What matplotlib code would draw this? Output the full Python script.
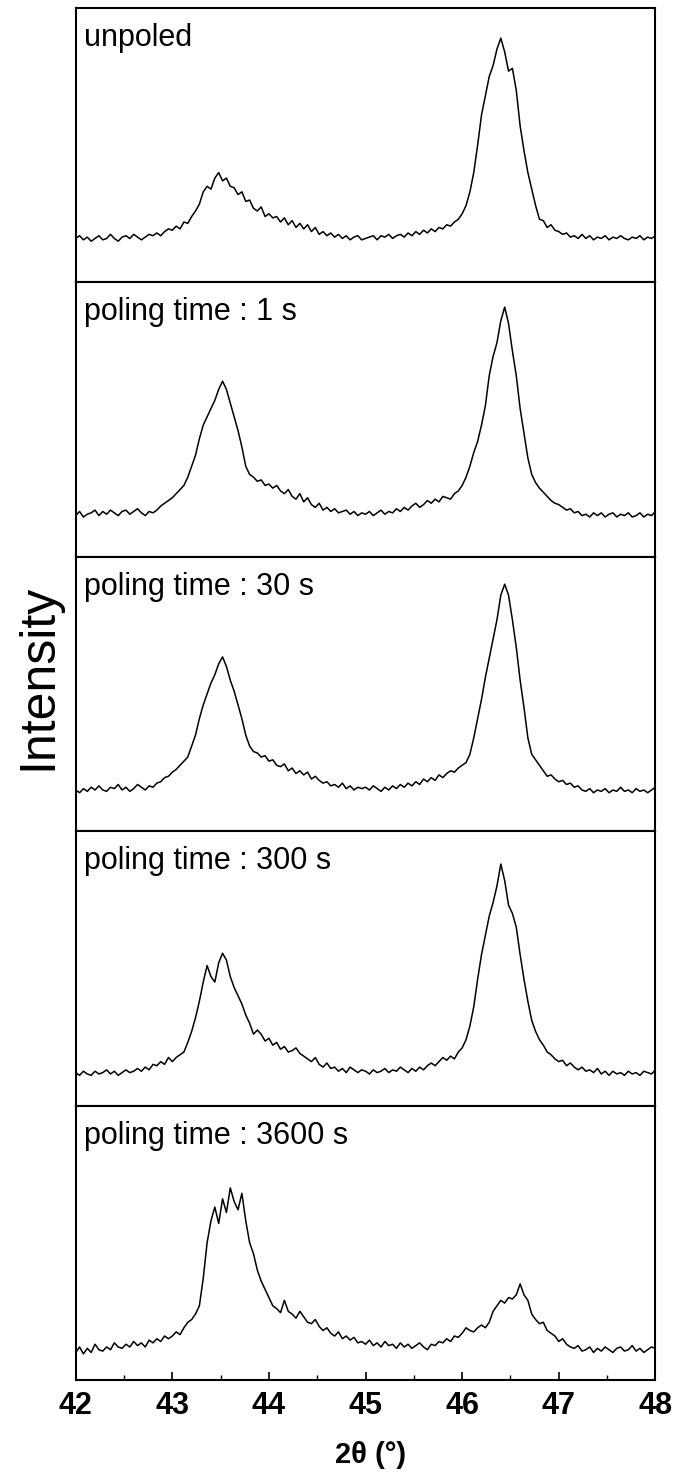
import matplotlib
matplotlib.use("Agg")
import matplotlib.pyplot as plt
import numpy as np

plt.rcParams['font.family'] = ['Liberation Sans', 'DejaVu Sans']

# 2theta grid, 0.04 deg steps from 42 to 48
two_theta = np.linspace(42.0, 48.0, 151)

labels = ["unpoled", "poling time : 1 s", "poling time : 30 s",
          "poling time : 300 s", "poling time : 3600 s"]
xticks = [42, 43, 44, 45, 46, 47, 48]

# intensity in % of panel height
unpoled = [
    16, 17, 15.5, 16.5, 15, 16, 17, 15.5, 16, 17.5, 16, 15, 16.5, 17, 16, 17.5, 16.5, 15.5, 16.5, 17.5, 17, 18, 17, 18.5, 19.5,
    19, 20.5, 19.5, 22, 21.5, 24, 26, 28.5, 33, 35, 34, 38, 40, 37, 38, 35, 34.5, 32, 33, 29.5, 30, 27, 26, 27.5, 24,
    25, 23.5, 24, 22, 23.5, 21, 22.5, 20, 21.5, 19.5, 21, 18.5, 20, 17.5, 18.5, 17, 18, 16.5, 17.5, 16, 17, 15.5, 16.5, 17, 15.5,
    16, 16.5, 17, 15.5, 17, 16.5, 17.5, 16, 17, 17.5, 16.5, 18, 17, 18.5, 17.5, 19, 18, 19.5, 18.5, 20, 19.5, 21, 20.5, 22, 23,
    25, 28, 33, 40, 50, 61, 68, 75, 79, 85, 89, 84, 77, 78, 70, 57, 48, 40, 34, 28, 23, 22.5, 20, 21, 19,
    18.5, 17.5, 18, 16.5, 17, 16, 17.5, 16, 17, 15.5, 16.5, 16, 17, 15.5, 16.5, 16, 17, 16, 15.5, 16.5, 16, 17, 15.5, 16.5, 16, 17,
]
pol_1s = [
    15, 16.5, 14.5, 15.5, 16, 17, 15, 16.5, 15.5, 17, 16, 15, 16.5, 17, 15.5, 16.5, 17.5, 16, 15, 16.5, 16, 17, 18.5, 19.5, 20.5,
    21.5, 23, 24.5, 26, 29, 33, 37, 43, 48, 51, 54, 57, 61, 64, 61, 56, 51, 46, 40, 33, 30, 29, 27.5, 28, 26,
    26.5, 25, 26, 24, 23, 24.5, 22, 21, 23, 20, 21.5, 19, 18, 19.5, 17, 18, 16.5, 17.5, 16, 16.5, 17, 15.5, 16.5, 15, 16,
    15.5, 16.5, 15, 16, 17, 15.5, 16.5, 16, 17.5, 16.5, 18, 17, 18.5, 19.5, 18, 19, 20.5, 19.5, 21, 20, 22, 21.5, 21, 23, 24,
    26, 29, 33, 38, 42, 48, 55, 66, 73, 78, 86, 91, 85, 75, 66, 54, 45, 36, 30, 27, 25, 23.5, 22, 20.5, 19.5,
    19, 18, 17, 17.5, 16, 16.5, 15, 15.5, 14.5, 16, 15, 16, 14.5, 15.5, 16, 14.5, 15.5, 15, 16, 14.5, 15, 16, 14.5, 15.5, 15, 16.5,
]
pol_30s = [
    15, 14, 15.5, 14.5, 16, 15, 16.5, 15, 14.5, 16, 15.5, 17, 15, 16, 14.5, 15.5, 17, 16, 15, 16.5, 16, 17.5, 18, 19.5, 20,
    21.5, 22.5, 24, 25.5, 27, 31, 35, 41, 46, 50, 54, 57, 61, 63.5, 60, 55, 51, 46, 41, 35, 31, 29, 28.5, 27, 27.5,
    25.5, 26, 24, 23.5, 24.5, 22, 23, 21, 22, 20.5, 21.5, 19, 20, 18.5, 17.5, 18, 16.5, 17, 16, 17.5, 15.5, 16.5, 15, 16, 15.5,
    16, 15, 16.5, 15.5, 14.5, 16, 15, 16.5, 15.5, 17, 16, 17.5, 16.5, 18, 17, 19, 18, 19.5, 18.5, 20.5, 19.5, 21, 22, 21.5, 23,
    24, 25, 28, 34, 41, 48, 56, 63, 70, 77, 86, 90, 86, 77, 67, 55, 45, 34, 28, 26, 24, 22, 20, 20.5, 19,
    18, 18.5, 17, 17.5, 16, 16.5, 15, 14.5, 15.5, 14, 15, 14.5, 15.5, 14, 15, 14.5, 16, 14.5, 15, 14, 15.5, 14.5, 15, 14, 15, 16,
]
pol_300s = [
    12, 11, 12.5, 11.5, 11, 12.5, 11.5, 12, 13, 11.5, 12.5, 11, 12, 13, 12, 12.5, 13.5, 12.5, 14, 13, 15, 14.5, 16, 15, 17.5,
    16, 17.5, 18.5, 19.5, 23, 27, 32, 38, 45, 51, 47, 45, 52, 55.5, 53, 47, 43, 40, 37, 33, 30, 26, 27.5, 26, 23.5,
    24.5, 22, 23, 20.5, 21.5, 19.5, 20, 21, 19, 18, 17, 16, 17.5, 15, 14, 15.5, 13.5, 14, 12.5, 13.5, 12, 14, 13, 12, 13,
    12.5, 11.5, 13, 12, 12.5, 13.5, 12, 13, 12.5, 14, 13, 12, 13.5, 12.5, 14, 13, 14.5, 15.5, 14.5, 16, 17.5, 16.5, 18, 17, 19.5,
    21, 24, 29, 36, 46, 55, 62, 69, 74, 80, 88, 82, 73, 70, 65, 55, 46, 38, 31, 27, 24, 22, 19.5, 18.5, 17,
    16, 16.5, 14.5, 15.5, 14, 13, 14, 12.5, 13, 12, 13.5, 11.5, 12.5, 11, 12.5, 11.5, 12, 11, 12.5, 11.5, 12, 11, 12.5, 12, 11.5, 13,
]
pol_3600s = [
    10, 12, 9.5, 11.5, 10, 13, 11, 10.5, 12, 11, 13.5, 12, 11.5, 13, 12, 14, 12.5, 13.5, 12, 14.5, 13.5, 15, 14, 16, 15,
    16, 17.5, 16.5, 19, 21, 22, 24, 27, 37, 50, 58, 63, 57, 66, 61, 70, 65, 62, 68, 58, 50, 46, 40, 36, 33,
    30, 27, 26, 24.5, 29, 25, 24, 22.5, 25, 23, 21, 20.5, 22, 19.5, 18, 19, 17, 16, 17.5, 15, 16, 14.5, 15.5, 13.5, 14,
    13, 14.5, 12.5, 13.5, 12, 14, 12.5, 13, 11.5, 13.5, 12, 13, 11.5, 12.5, 13.5, 12, 11, 13, 12.5, 14, 13.5, 15, 14, 16, 15.5,
    17, 19, 18, 17.5, 19, 20, 19, 21, 25, 27, 29, 28, 30, 29.5, 31, 35, 31, 29, 24, 22, 20.5, 21, 18, 17, 16,
    14, 15, 13, 12, 11.5, 12.5, 10.5, 11, 12, 10, 11.5, 10.5, 12, 11, 10, 11.5, 12, 10.5, 11, 12.5, 10.5, 11.5, 10, 11, 12, 11.5,
]
series = [unpoled, pol_1s, pol_30s, pol_300s, pol_3600s]

fig, axes = plt.subplots(5, 1, figsize=(6.82, 14.79), dpi=100, sharex=True)
fig.subplots_adjust(left=0.111, right=0.961, bottom=0.067, top=0.9946, hspace=0)

for ax, y, lab in zip(axes, series, labels):
    ax.plot(two_theta, y, color='black', lw=1.1)
    ax.set_xlim(42, 48)
    ax.set_ylim(0, 100)
    ax.set_yticks([])
    for s in ax.spines.values():
        s.set_linewidth(1.5)
    ax.tick_params(axis='x', which='both', bottom=False, top=False, labelbottom=False)
    ax.text(0.015, 0.945, lab, transform=ax.transAxes, ha='left', va='top', fontsize=22)

ax = axes[-1]
ax.set_xticks(xticks)
ax.set_xticklabels([str(v) for v in xticks], fontweight='bold')
ax.set_xticks([v + 0.5 for v in xticks[:-1]], minor=True)
ax.set_xlim(42, 48)
ax.tick_params(axis='x', which='both', bottom=True, labelbottom=True, direction='in')
ax.tick_params(axis='x', which='major', length=6, width=1.2, labelsize=22, pad=8)
ax.tick_params(axis='x', which='minor', length=3.5, width=1.0)

fig.text(371 / 682, 1 - 1455 / 1479, "2\u03b8 (\u00b0)", ha='center', va='center',
         fontsize=21, fontweight='bold', family='Liberation Sans')
fig.text(38 / 682, 1 - 677 / 1479, "Intensity", ha='center', va='center', rotation=90, fontsize=36)

fig.savefig('out.png', dpi=100)
